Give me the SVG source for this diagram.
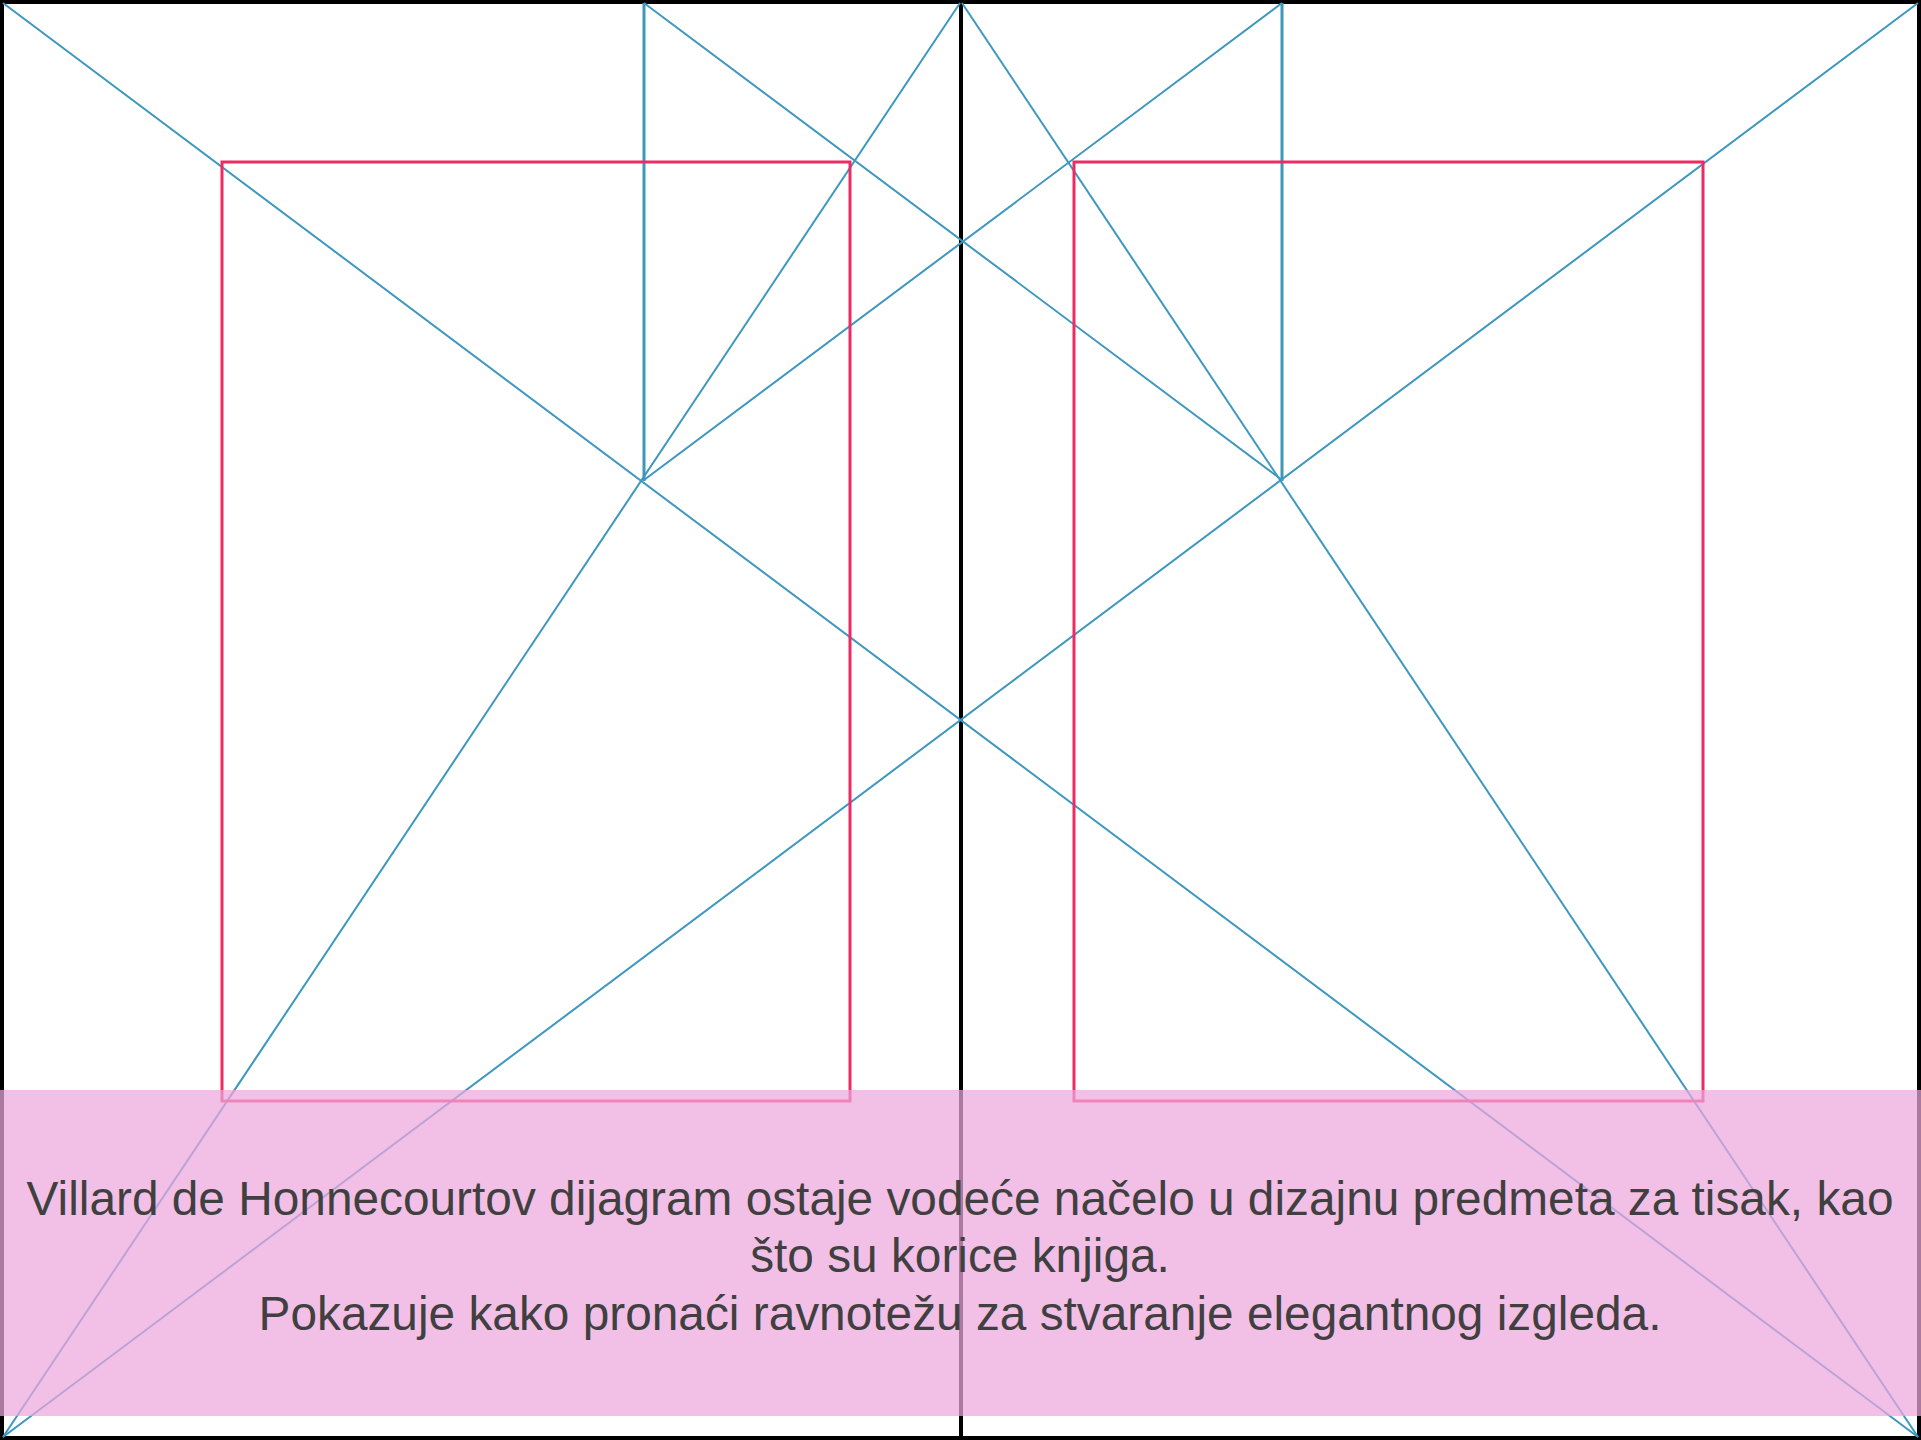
<svg xmlns="http://www.w3.org/2000/svg" width="1921" height="1440" viewBox="0 0 1921 1440">
<style>
.frame{fill:none;stroke:#000;stroke-width:4}
.guide{stroke:#3D97BE;stroke-width:2;fill:none}
.vguide{stroke:#3D97BE;stroke-width:3;fill:none}
.block{fill:none;stroke:#ED2A63;stroke-width:3}
.caption{font-family:"Liberation Sans",Arial,sans-serif;font-size:47.8px;fill:#404040;text-anchor:middle}
</style>
<rect width="1921" height="1440" fill="#fff"/>
<g id="spread">
<rect class="frame" x="2" y="2" width="1917" height="1436"/>
<line x1="961" y1="0" x2="961" y2="1440" stroke="#000" stroke-width="4"/>
</g>
<g id="connectors">
<line class="guide" x1="3" y1="3" x2="1918" y2="1437"/>
<line class="guide" x1="1918" y1="3" x2="3" y2="1437"/>
<line class="guide" x1="960" y1="3" x2="3" y2="1437"/>
<line class="guide" x1="962" y1="3" x2="1918" y2="1437"/>
<line class="vguide" x1="644" y1="3" x2="644" y2="481"/>
<line class="vguide" x1="1282" y1="3" x2="1282" y2="481"/>
<line class="guide" x1="644" y1="3" x2="1282" y2="480"/>
<line class="guide" x1="1282" y1="3" x2="644" y2="480"/>
</g>
<g id="text-block-left">
<rect class="block" x="222" y="162" width="628" height="939" stroke="#EE3C70"/>
</g>
<g id="text-block-right">
<rect class="block" x="1074" y="162" width="629" height="939"/>
</g>
<g id="caption">
<rect x="0" y="1090" width="1921" height="326" fill="#EDA8DC" fill-opacity="0.72"/>
<text class="caption" x="960" y="1215">Villard de Honnecourtov dijagram ostaje vodeće načelo u dizajnu predmeta za tisak, kao</text>
<text class="caption" x="960" y="1272">što su korice knjiga.</text>
<text class="caption" x="960" y="1330">Pokazuje kako pronaći ravnotežu za stvaranje elegantnog izgleda.</text>
</g>
</svg>
